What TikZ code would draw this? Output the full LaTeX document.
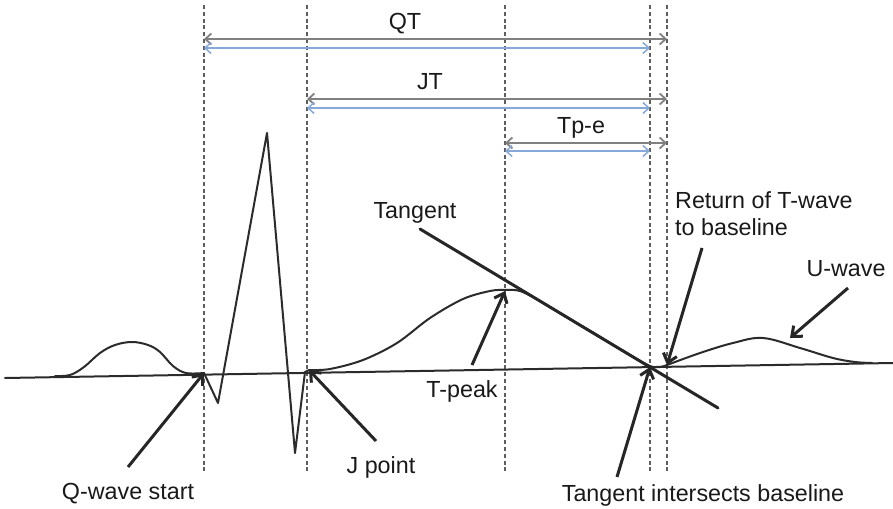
\documentclass[tikz,border=0pt]{standalone}
\usepackage{fontspec}
\setmainfont{Liberation Sans}
\usetikzlibrary{arrows.meta}
\definecolor{spangray}{HTML}{808080}
\definecolor{spanblue}{HTML}{86A8DB}
\definecolor{guidegray}{HTML}{5E5E5E}
\definecolor{trace}{HTML}{2B2B2B}

\begin{document}
\begin{tikzpicture}[x=1pt,y=-1pt,
  lbl/.style={inner sep=0pt, anchor=base, font=\fontsize{23.3}{27}\selectfont, text=black!90},
  guideline/.style={guidegray, line width=2pt, dash pattern=on 4pt off 2.8pt},
  spantip/.style={{Straight Barb[length=6pt,width=11pt]}-{Straight Barb[length=6pt,width=11pt]}},
  spangrey/.style={spangray, line width=1.8pt, spantip},
  spanblu/.style={spanblue, line width=1.5pt, spantip},
  ecg/.style={trace, line width=2pt, line join=round, line cap=round},
  pointer/.style={black!85, line width=3pt, -{Straight Barb[length=8.5pt,width=14pt]}},
]
\useasboundingbox (0,0) rectangle (893,508);

% key instants on the trace
\coordinate (qstart) at (204,373);
\coordinate (jpt)    at (309,370);
\coordinate (tpeak)  at (505,291);
\coordinate (tcross) at (650,367);
\coordinate (tend)   at (667,365);
\coordinate (upeak)  at (790,338);

% vertical dashed guides
\foreach \n/\x in {q/204, j/307, p/505, c/650, e/667}{
  \coordinate (\n-top) at (\x,5);
  \coordinate (\n-bot) at (\x,474);
  \draw[guideline] (\n-top) -- (\n-bot);
}

% interval spans: grey to T-wave return, blue to tangent intersection
\coordinate (qtL) at (204,39);  \coordinate (qtR) at (667,39);
\coordinate (qtl) at (204,48);  \coordinate (qtr) at (650,48);
\coordinate (jtL) at (307,99);  \coordinate (jtR) at (667,99);
\coordinate (jtl) at (307,108); \coordinate (jtr) at (650,108);
\coordinate (peL) at (505,143); \coordinate (peR) at (667,143);
\coordinate (pel) at (505,151); \coordinate (per) at (650,151);
\draw[spangrey] (qtL) -- (qtR);
\draw[spanblu]  (qtl) -- (qtr);
\draw[spangrey] (jtL) -- (jtR);
\draw[spanblu]  (jtl) -- (jtr);
\draw[spangrey] (peL) -- (peR);
\draw[spanblu]  (pel) -- (per);
\node[lbl] (qt)  at (405,30)  {QT};
\node[lbl] (jt)  at (430,90)  {JT};
\node[lbl] (tpe) at (581,133) {Tp-e};

% isoelectric baseline
\coordinate (baseL) at (5,378);
\coordinate (baseR) at (893,363);
\draw[ecg] (baseL) -- (baseR);

% P wave
\draw[ecg] plot[smooth, tension=0.6] coordinates {(55,376) (70,375) (84,367) (100,353) (115,345) (132,342) (148,345) (160,352) (173,366) (186,373) (204,373)};
% QRS complex
\draw[ecg] (qstart) -- (218,403) -- (267,133) -- (295,453) -- (305,372) -- (jpt);
% ST segment and T wave
\draw[ecg] plot[smooth, tension=0.55] coordinates {(jpt) (330,369) (363,360) (397,343) (430,318) (463,299) (490,291) (505,290) (520,291) (540,301) (563,315) (597,335) (630,355) (650,366) (660,367) (tend)};
% U wave
\draw[ecg] plot[smooth, tension=0.6] coordinates {(tend) (700,353) (733,343) (763,338) (800,348) (833,358) (855,362) (872,363)};

% tangent to the descending limb of T
\coordinate (tanA) at (420,229);
\coordinate (tanB) at (718,408);
\draw[black!85, line width=3pt, line cap=round] (tanA) -- (tanB);
\node[lbl] (tangent) at (415,218) {Tangent};

% annotations
\node[lbl] (qlbl) at (128,499) {Q-wave start};
\coordinate (qtail) at (128,467);
\draw[pointer] (qtail) -- (qstart);

\node[lbl] (jlbl) at (381,473) {J point};
\coordinate (jtail) at (376,441);
\draw[pointer] (jtail) -- (jpt);

\node[lbl] (plbl) at (462,397) {T-peak};
\coordinate (ptail) at (472,365);
\draw[pointer] (ptail) -- (tpeak);

\node[lbl] (clbl) at (703,501) {Tangent intersects baseline};
\coordinate (ctail) at (617,477);
\draw[pointer] (ctail) -- (tcross);

\node[lbl, anchor=base west] (rlbl1) at (675,208) {Return of T-wave};
\node[lbl, anchor=base west] (rlbl2) at (675,235) {to baseline};
\coordinate (rtail) at (702,248);
\draw[pointer] (rtail) -- (tend);

\node[lbl] (ulbl) at (846,276) {U-wave};
\coordinate (utail) at (848,288);
\draw[pointer] (utail) -- (upeak);
\end{tikzpicture}
\end{document}
